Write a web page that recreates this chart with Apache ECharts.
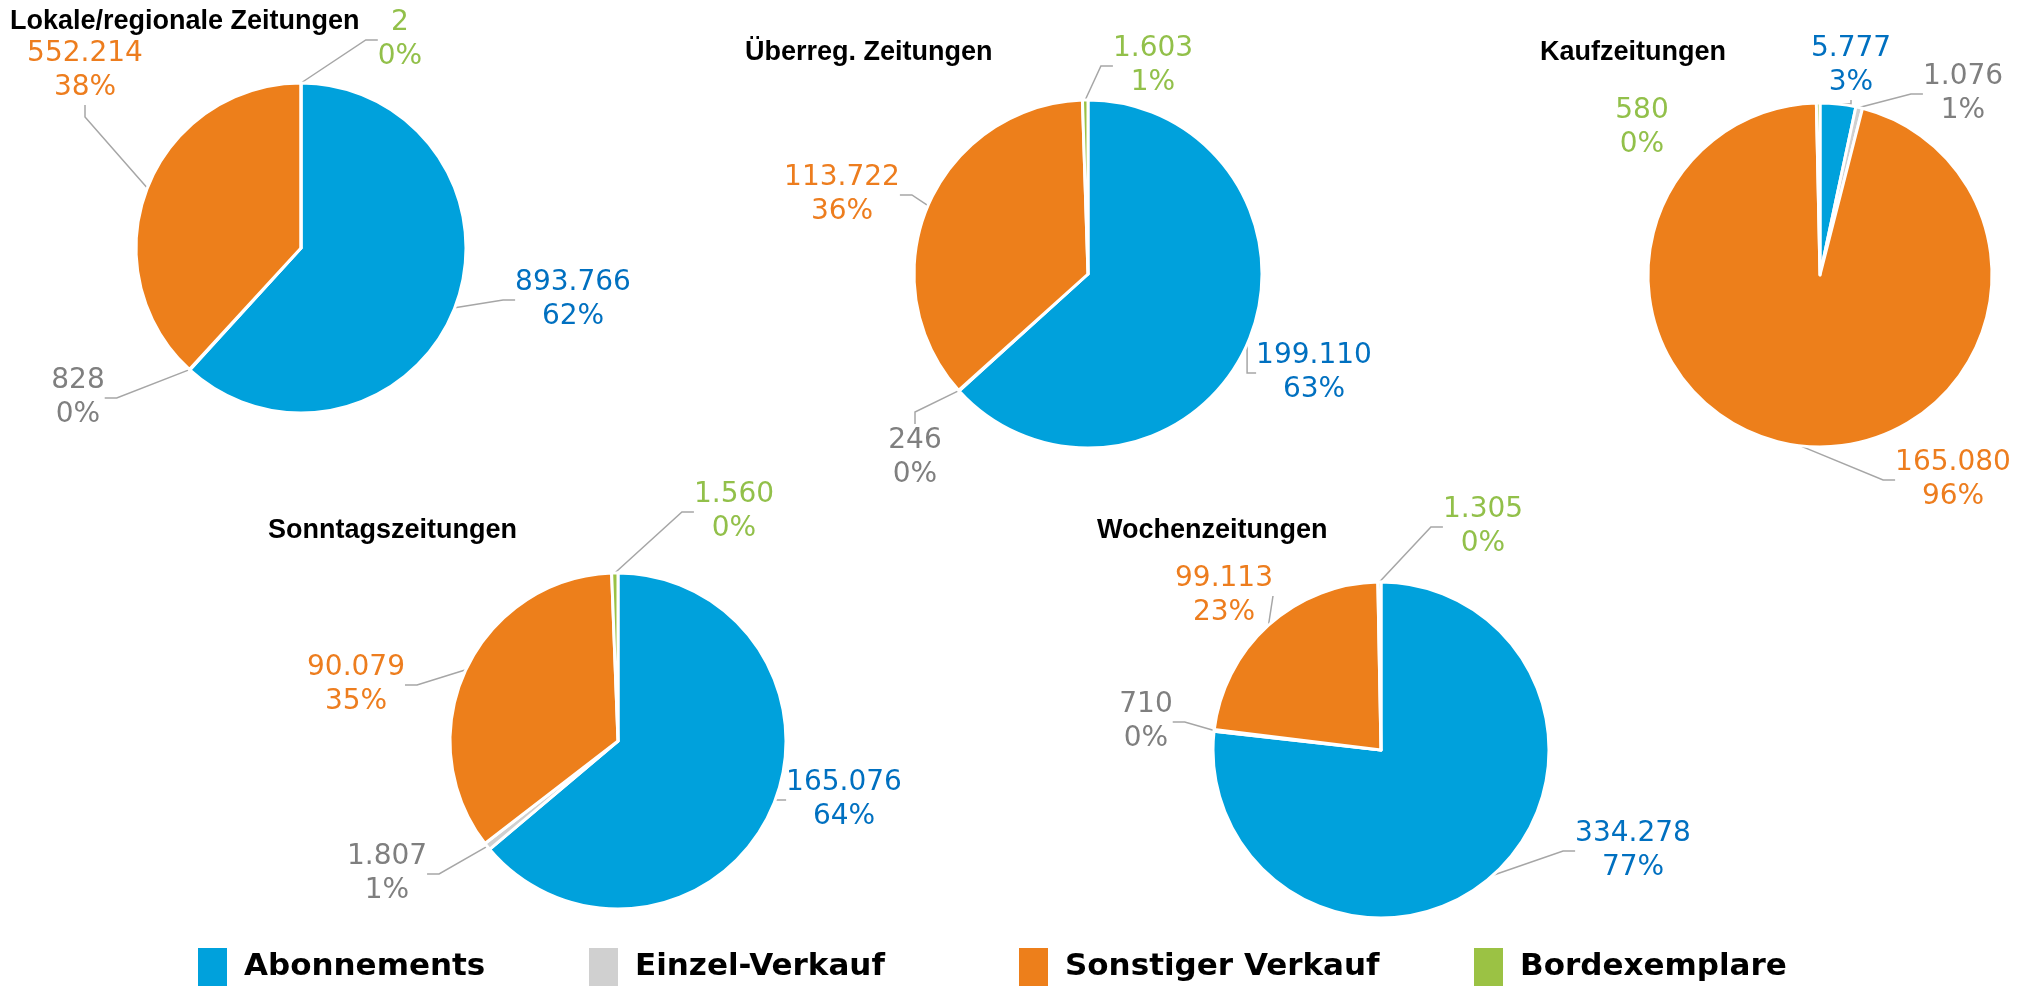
<!DOCTYPE html>
<html>
<head>
<meta charset="utf-8">
<script src="https://cdn.jsdelivr.net/npm/echarts@6/dist/echarts.min.js"></script>
<style>
  html, body { margin: 0; padding: 0; background: #fff; }
  #chart { width: 2024px; height: 987px; }
</style>
</head>
<body>
<div id="chart"></div>
<script>
// categories (same order in every pie)
const categories = ['Abonnements', 'Einzel-Verkauf', 'Sonstiger Verkauf', 'Bordexemplare'];

const titles = ['Lokale/regionale Zeitungen', 'Überreg. Zeitungen', 'Kaufzeitungen', 'Sonntagszeitungen', 'Wochenzeitungen'];

// copies per category
const lokaleValues = [893766, 828, 552214, 2];
const ueberregValues = [199110, 246, 113722, 1603];
const kaufValues = [5777, 1076, 165080, 580];
const sonntagValues = [165076, 1807, 90079, 1560];
const wochenValues = [334278, 710, 99113, 1305];

// percent labels as printed
const lokalePct = ['62%', '0%', '38%', '0%'];
const ueberregPct = ['63%', '0%', '36%', '1%'];
const kaufPct = ['3%', '1%', '96%', '0%'];
const sonntagPct = ['64%', '1%', '35%', '0%'];
const wochenPct = ['77%', '0%', '23%', '0%'];

const allValues = [lokaleValues, ueberregValues, kaufValues, sonntagValues, wochenValues];
const allPct = [lokalePct, ueberregPct, kaufPct, sonntagPct, wochenPct];

const sliceColors = ['#00A1DC', '#D0D0D0', '#ED7F1B', '#9BC244'];
const labelColors = ['#0070C0', '#7F7F7F', '#ED7D1E', '#92C04A'];

// layout: pie centres/radius and label centres (px)
const pies = [
  { center: [301, 248], r: 165, title: [10, 8] },
  { center: [1088, 274], r: 174, title: [745, 39] },
  { center: [1820, 275], r: 172, title: [1540, 39] },
  { center: [618, 741], r: 168, title: [268, 517] },
  { center: [1381, 750], r: 168, title: [1097, 517] }
];
const labelSpots = [
  [[573, 300], [78, 398], [85, 71], [400, 40]],
  [[1314, 373], [915, 458], [842, 195], [1153, 66]],
  [[1851, 66], [1963, 94], [1953, 480], [1642, 128]],
  [[844, 800], [387, 874], [356, 685], [734, 512]],
  [[1633, 851], [1146, 722], [1224, 596], [1483, 527]]
];

function deNumber(v) {
  return String(v).replace(/\B(?=(\d{3})+(?!\d))/g, '.');
}

const chart = echarts.init(document.getElementById('chart'), null, { renderer: 'canvas' });

const series = allValues.map((vals, si) => ({
  type: 'pie',
  center: pies[si].center,
  radius: pies[si].r,
  startAngle: 90,
  clockwise: true,
  avoidLabelOverlap: false,
  animation: false,
  itemStyle: { borderColor: '#fff', borderWidth: 3 },
  label: {
    show: true,
    position: 'outside',
    fontFamily: 'DejaVu Sans',
    fontSize: 28,
    lineHeight: 34,
    align: 'center',
    formatter: (p) => deNumber(p.value) + '\n' + allPct[si][p.dataIndex]
  },
  labelLine: {
    show: true,
    length: 15,
    length2: 12,
    lineStyle: { color: '#A6A6A6', width: 1.5 }
  },
  labelLayout: (p) => ({
    x: labelSpots[si][p.dataIndex][0],
    y: labelSpots[si][p.dataIndex][1],
    align: 'center',
    verticalAlign: 'middle'
  }),
  emphasis: { disabled: true },
  data: vals.map((v, i) => ({
    name: categories[i],
    value: v,
    itemStyle: { color: sliceColors[i] },
    label: { color: labelColors[i] },
    // the small green slice of Kaufzeitungen has no leader line
    labelLine: { show: !(si === 2 && i === 3) }
  }))
}));

const legendLeft = [196, 587, 1017, 1472];

const option = {
  backgroundColor: '#fff',
  title: titles.map((t, i) => ({
    text: t,
    left: pies[i].title[0],
    top: pies[i].title[1],
    padding: 0,
    textStyle: { fontFamily: 'Liberation Sans, Arial', fontWeight: 'bold', fontSize: 27, color: '#000' }
  })),
  legend: categories.map((c, i) => ({
    data: [c],
    left: legendLeft[i],
    top: 946,
    padding: 0,
    itemWidth: 31,
    itemHeight: 40,
    icon: 'rect',
    selectedMode: false,
    textStyle: { fontFamily: 'DejaVu Sans', fontWeight: 'bold', fontSize: 31, color: '#000', padding: [0, 0, 0, 11] }
  })),
  series
};

chart.setOption(option);
</script>
</body>
</html>
